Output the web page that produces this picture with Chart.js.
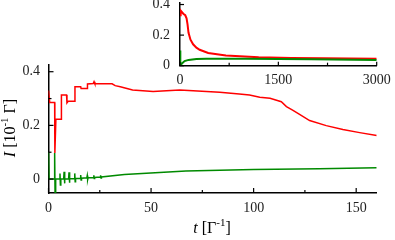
<!DOCTYPE html>
<html>
<head>
<meta charset="utf-8">
<script src="https://cdn.jsdelivr.net/npm/chart.js@4/dist/chart.umd.min.js"></script>
<style>
  html, body { margin: 0; padding: 0; background: #fff; }
  #wrap { position: relative; width: 395px; height: 240px; }
  #main { position: absolute; left: 0; top: 0; }
  #inset { position: absolute; left: 130px; top: 0; }
</style>
</head>
<body>
<div id="wrap">
  <canvas id="main" width="395" height="240"></canvas>
  <canvas id="inset" width="265" height="95"></canvas>
</div>
<script>
// main panel, t in 1/Gamma, I in 10^-1 Gamma
const redT = [0, 0.6, 3.0, 3.1, 3.6, 6.2, 6.3, 8.8, 9.0, 9.6, 10.2, 12.7, 12.9, 15.7, 15.9, 18.8, 19.0, 21.8, 22.2, 22.6,
  31, 32.5, 35, 41, 51, 64, 83.5, 93, 98, 103, 108, 113.5, 116, 119, 122.4, 127.3, 135.4, 143.5, 151.7, 160];
const redI = [0.33, 0.285, 0.285, 0.097, 0.223, 0.223, 0.313, 0.313, 0.284, 0.29, 0.29, 0.29, 0.344, 0.344, 0.337, 0.337, 0.354, 0.356, 0.363, 0.355,
  0.355, 0.348, 0.344, 0.332, 0.326, 0.332, 0.323, 0.317, 0.313, 0.305, 0.301, 0.288, 0.27, 0.257, 0.241, 0.218, 0.199, 0.185, 0.173, 0.162];

const greenT = [0, 0.3, 2.8, 3.0, 3.2, 3.5, 5.4, 5.6, 5.8, 6.0, 7.4, 7.6, 7.8, 8.0, 9.8, 10.0, 10.2, 10.4,
  12.6, 12.8, 13.0, 13.2, 15.5, 15.7, 15.9, 16.1, 18.7, 18.9, 19.1, 19.3, 21.9, 22.1, 22.3, 22.5,
  25.2, 25.4, 25.6, 25.8, 37, 67, 100, 132, 160];
const greenI = [0.1, 0.0, 0.0, 0.097, -0.055, 0.0, 0.0, 0.021, -0.022, 0.0, 0.0, 0.027, -0.016, 0.0, 0.0, 0.025, -0.014, 0.001,
  0.002, 0.021, -0.01, 0.002, 0.003, 0.015, -0.004, 0.003, 0.005, 0.013, -0.002, 0.005, 0.006, 0.014, 0.002, 0.006,
  0.008, 0.014, 0.004, 0.008, 0.017, 0.03, 0.036, 0.038, 0.042];

// inset, long times
const insetRedT = [0, 10, 50, 80, 100, 115, 130, 160, 200, 250, 300, 430, 700, 1200, 1700, 2200, 3000];
const insetRedI = [0.33, 0.36, 0.34, 0.33, 0.31, 0.27, 0.215, 0.17, 0.14, 0.118, 0.104, 0.083, 0.067, 0.056, 0.051, 0.049, 0.045];
const insetGreenT = [0, 5, 30, 70, 130, 250, 400, 1000, 2000, 3000];
const insetGreenI = [0.1, 0.0, 0.015, 0.03, 0.038, 0.044, 0.046, 0.045, 0.042, 0.038];

const mainXTicks = [0, 50, 100, 150];
const mainXMinor = [25, 75, 125];
const mainYTicks = [0, 0.2, 0.4];
const mainYMinor = [0.1, 0.3];
const insetXTicks = [0, 1500, 3000];
const insetXMinor = [750, 2250];
const insetYTicks = [0, 0.2, 0.4];

const SERIF = "'Liberation Serif', 'DejaVu Serif', serif";
const RED = '#ff0000';
const GREEN = '#008a00';

function pts(xs, ys) {
    return xs.map((x, i) => ({ x: x, y: ys[i] }));
}

// inward tick marks, majors from the scale and minors from the lists above
const innerTicks = {
    id: 'innerTicks',
    afterDraw(chart, args, opts) {
        const ctx = chart.ctx;
        const area = chart.chartArea;
        ctx.save();
        ctx.strokeStyle = '#000';
        ctx.lineWidth = 1.2;
        const xs = chart.scales.x, ys = chart.scales.y;
        const drawX = (v, len) => {
            const px = xs.getPixelForValue(v);
            ctx.beginPath(); ctx.moveTo(px, area.bottom); ctx.lineTo(px, area.bottom - len); ctx.stroke();
        };
        const drawY = (v, len) => {
            const py = ys.getPixelForValue(v);
            ctx.beginPath(); ctx.moveTo(area.left, py); ctx.lineTo(area.left + len, py); ctx.stroke();
        };
        xs.ticks.forEach(t => drawX(t.value, opts.major));
        (opts.xMinor || []).forEach(v => drawX(v, opts.minor));
        ys.ticks.forEach(t => drawY(t.value, opts.major));
        (opts.yMinor || []).forEach(v => drawY(v, opts.minor));
        ctx.restore();
    }
};

// axis titles with italic symbol and superscript
function drawRich(ctx, parts, cx, baseY) {
    let total = 0;
    parts.forEach(p => { ctx.font = p.font; p.w = ctx.measureText(p.text).width; total += p.w; });
    let x = cx - total / 2;
    parts.forEach(p => {
        ctx.font = p.font;
        ctx.fillText(p.text, x, baseY - (p.rise || 0));
        x += p.w;
    });
}

const axisTitles = {
    id: 'axisTitles',
    afterDraw(chart) {
        const ctx = chart.ctx;
        ctx.save();
        ctx.fillStyle = '#000';
        ctx.textBaseline = 'alphabetic';
        ctx.textAlign = 'left';
        drawRich(ctx, [
            { text: 't', font: 'italic 16px ' + SERIF },
            { text: ' [Γ', font: '16px ' + SERIF },
            { text: '-1', font: '11px ' + SERIF, rise: 7 },
            { text: ']', font: '16px ' + SERIF }
        ], 212, 233);
        ctx.translate(15, 128);
        ctx.rotate(-Math.PI / 2);
        drawRich(ctx, [
            { text: 'I', font: 'italic 16px ' + SERIF },
            { text: ' [10', font: '16px ' + SERIF },
            { text: '-1', font: '11px ' + SERIF, rise: 7 },
            { text: ' Γ]', font: '16px ' + SERIF }
        ], 0, 0);
        ctx.restore();
    }
};

function axisOpts(ticks, min, max, pad, size, isY) {
    return {
        type: 'linear',
        min: min,
        max: max,
        grid: { display: false, drawTicks: false },
        border: { display: true, color: '#000', width: 1.5 },
        afterBuildTicks: (scale) => { scale.ticks = ticks.map(v => ({ value: v })); },
        afterFit: (scale) => {
            if (isY) {
                scale.width = size;
                scale.paddingTop = 0;
                scale.paddingBottom = 0;
            } else {
                scale.height = size;
                scale.paddingLeft = 0;
                scale.paddingRight = 0;
            }
        },
        ticks: {
            padding: pad,
            color: '#222',
            font: { family: SERIF, size: 14 },
            maxRotation: 0,
            autoSkip: false,
            callback: (v) => String(v)
        }
    };
}

new Chart(document.getElementById('main'), {
    type: 'line',
    data: {
        datasets: [
            { data: pts(greenT, greenI), borderColor: GREEN, borderWidth: 1.5, pointRadius: 0, tension: 0 },
            { data: pts(redT, redI), borderColor: RED, borderWidth: 1.5, pointRadius: 0, tension: 0 }
        ]
    },
    options: {
        responsive: false,
        animation: false,
        layout: { padding: { left: 0, right: 18.3, top: 65, bottom: 0 } },
        plugins: {
            legend: { display: false },
            tooltip: { enabled: false },
            innerTicks: { major: 5, minor: 3, xMinor: mainXMinor, yMinor: mainYMinor }
        },
        scales: {
            x: axisOpts(mainXTicks, 0, 160, 6.5, 47, false),
            y: axisOpts(mainYTicks, -0.052, 0.425, 8.5, 48.5, true)
        }
    },
    plugins: [innerTicks, axisTitles]
});

new Chart(document.getElementById('inset'), {
    type: 'line',
    data: {
        datasets: [
            { data: pts(insetGreenT, insetGreenI), borderColor: GREEN, borderWidth: 2, pointRadius: 0, tension: 0 },
            { data: pts(insetRedT, insetRedI), borderColor: RED, borderWidth: 2, pointRadius: 0, tension: 0 }
        ]
    },
    options: {
        responsive: false,
        animation: false,
        layout: { padding: { left: 0, right: 18.3, top: 3, bottom: 0 } },
        plugins: {
            legend: { display: false },
            tooltip: { enabled: false },
            innerTicks: { major: 4, minor: 3, xMinor: insetXMinor, yMinor: [] }
        },
        scales: {
            x: axisOpts(insetXTicks, 0, 3000, 6, 29.3, false),
            y: axisOpts(insetYTicks, 0, 0.41, 10, 50, true)
        }
    },
    plugins: [innerTicks]
});
</script>
</body>
</html>
